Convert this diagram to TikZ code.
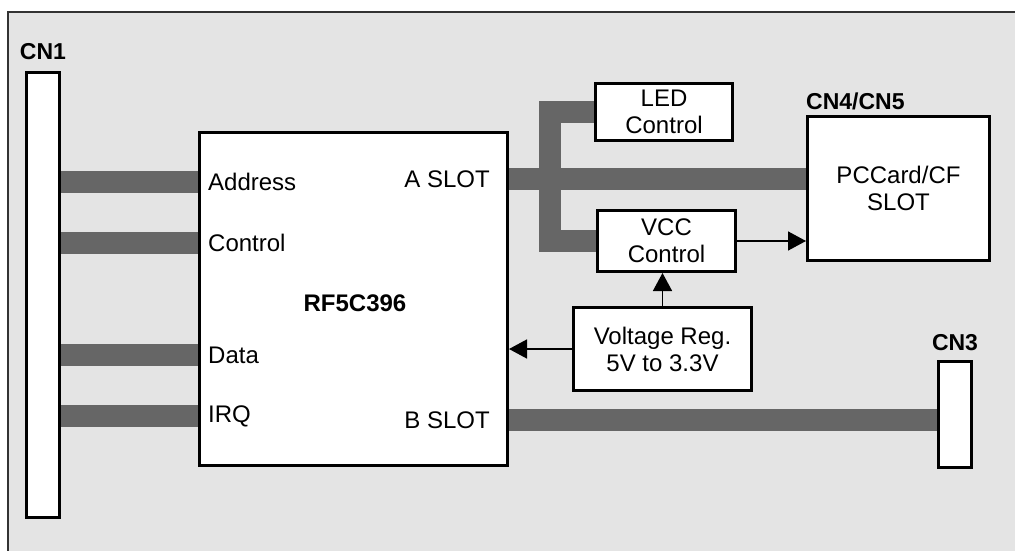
\documentclass[tikz,border=0pt]{standalone}
\usepackage{fontspec}
\setmainfont{Liberation Sans}
\usetikzlibrary{positioning, calc, arrows.meta, backgrounds}
\definecolor{Bus}{HTML}{666666}
\definecolor{Panel}{HTML}{E4E4E4}
\definecolor{Frame}{HTML}{333333}
\tikzset{
    block/.style={rectangle, draw=black, line width=3pt, fill=white, inner sep=0pt, align=center, font=\fontsize{24}{27}\selectfont},
    bus/.style={draw=Bus, line width=22pt, line join=miter},
    sig/.style={-{Triangle[length=18pt, width=19pt]}, line width=1.5pt, color=black},
    pinlabel/.style={inner sep=0pt, font=\fontsize{24}{27}\selectfont},
    conntitle/.style={inner sep=0pt, font=\bfseries\fontsize{23}{26}\selectfont},
}

\begin{document}
\begin{tikzpicture}[x=1pt, y=-1pt]
    \useasboundingbox (0,0) rectangle (1015,551);

    % --- Sfondo della scheda ---
    \begin{scope}[on background layer]
        \fill[Panel] (8,12) rectangle (1015,551);
        \draw[Frame, line width=1.2pt] (8,551) -- (8,12) -- (1015,12);
    \end{scope}

    % --- Connettori ---
    \node[block, minimum width=33pt, minimum height=445pt] (CN1) at (43, 295) {};
    \node[conntitle, above=11pt of CN1] (CN1title) {CN1};

    \node[block, minimum width=33pt, minimum height=106pt] (CN3) at (955, 414.5) {};
    \node[conntitle, above=9pt of CN3] (CN3title) {CN3};

    \node[block, minimum width=182pt, minimum height=144pt] (CN4) at (898.5, 188.5) {PCCard/CF\\SLOT};
    \node[conntitle, anchor=south west] (CN4title) at ([yshift=5pt]CN4.north west) {CN4/CN5};

    % --- Controller ---
    \node[block, minimum width=308pt, minimum height=333pt] (RF) at (353.5, 299) {};
    \node[conntitle, font=\bfseries\fontsize{24}{27}\selectfont] (RFname) at (355, 303) {RF5C396};

    % --- Blocchi di supporto ---
    \node[block, minimum width=137pt, minimum height=57pt] (LED) at (664, 112) {LED\\Control};
    \node[block, minimum width=138pt, minimum height=61pt] (VCC) at (666.5, 241) {VCC\\Control};
    \node[block, minimum width=178pt, minimum height=83pt] (VR) at (662.5, 349) {Voltage Reg.\\5V to 3.3V};

    % --- Bus lato CN1 ---
    \foreach \name/\txt/\ypos in {addr/Address/182, ctrl/Control/243, data/Data/355, irq/IRQ/416} {
        \node[pinlabel, anchor=west] (\name) at (208, \ypos) {\txt};
        \begin{scope}[on background layer]
            \draw[bus] (CN1.east |- \name) -- (RF.west |- \name);
        \end{scope}
    }

    % --- Slot A e B ---
    \node[pinlabel, anchor=east] (aslot) at (490, 179) {A SLOT};
    \node[pinlabel, anchor=east] (bslot) at (490, 420) {B SLOT};
    \begin{scope}[on background layer]
        \draw[bus] (RF.east |- aslot) -- (CN4.west |- aslot);
        \draw[bus] (LED.west) -- ++(-44,0) |- (VCC.west);
        \draw[bus] (RF.east |- bslot) -- (CN3.west |- bslot);
    \end{scope}

    % --- Alimentazione ---
    \draw[sig] (VR.west) -- (VR.west -| RF.east);
    \draw[sig] (VR.north) -- (VR.north |- VCC.south);
    \draw[sig] (VCC.east) -- (VCC.east -| CN4.west);

\end{tikzpicture}
\end{document}
